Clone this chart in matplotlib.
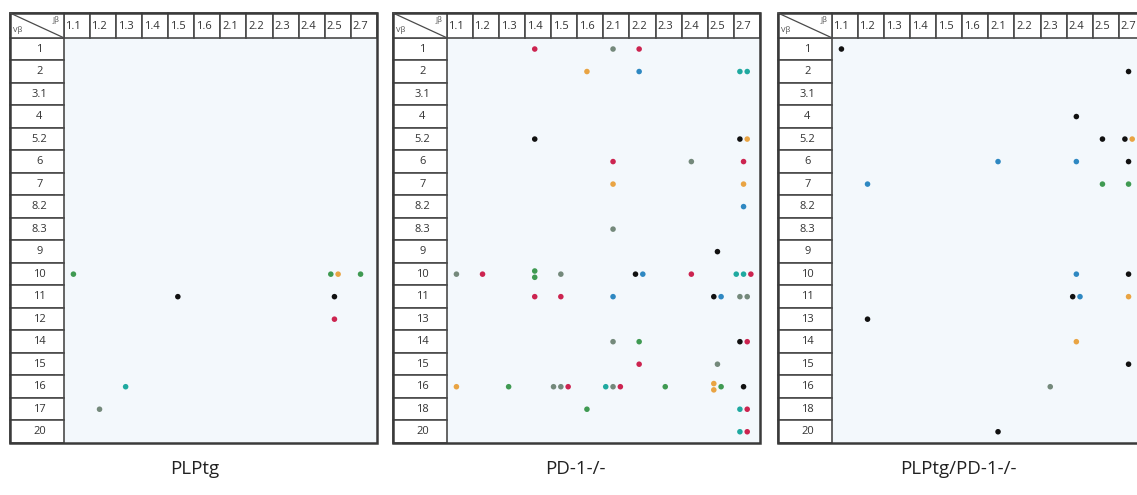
import matplotlib.pyplot as plt
from matplotlib.patches import Rectangle

plt.rcParams['font.family'] = ['Open Sans', 'DejaVu Sans']

# J beta segments (columns) and V beta segments (rows)
jb_cols = ['1.1', '1.2', '1.3', '1.4', '1.5', '1.6', '2.1', '2.2', '2.3', '2.4', '2.5', '2.7']
rows_plptg = ['1', '2', '3.1', '4', '5.2', '6', '7', '8.2', '8.3', '9', '10', '11', '12', '14', '15', '16', '17', '20']
rows_pd1 = ['1', '2', '3.1', '4', '5.2', '6', '7', '8.2', '8.3', '9', '10', '11', '13', '14', '15', '16', '18', '20']
rows_double = ['1', '2', '3.1', '4', '5.2', '6', '7', '8.2', '8.3', '9', '10', '11', '13', '14', '15', '16', '18', '20']

# clones found: (V beta, J beta, dots side by side; letters in one entry stack vertically)
dots_plptg = [
    ('10', '1.1', ['g']), ('10', '2.5', ['g', 'o']), ('10', '2.7', ['g']),
    ('11', '1.5', ['k']), ('11', '2.5', ['k']),
    ('12', '2.5', ['r']),
    ('16', '1.3', ['t']),
    ('17', '1.2', ['y']),
]
dots_pd1 = [
    ('1', '1.4', ['r']), ('1', '2.1', ['y']), ('1', '2.2', ['r']),
    ('2', '1.6', ['o']), ('2', '2.2', ['b']), ('2', '2.7', ['t', 't']),
    ('5.2', '1.4', ['k']), ('5.2', '2.7', ['k', 'o']),
    ('6', '2.1', ['r']), ('6', '2.4', ['y']), ('6', '2.7', ['r']),
    ('7', '2.1', ['o']), ('7', '2.7', ['o']),
    ('8.2', '2.7', ['b']),
    ('8.3', '2.1', ['y']),
    ('9', '2.5', ['k']),
    ('10', '1.1', ['y']), ('10', '1.2', ['r']), ('10', '1.4', ['gg']), ('10', '1.5', ['y']),
    ('10', '2.2', ['k', 'b']), ('10', '2.4', ['r']), ('10', '2.7', ['t', 't', 'r']),
    ('11', '1.4', ['r']), ('11', '1.5', ['r']), ('11', '2.1', ['b']), ('11', '2.5', ['k', 'b']),
    ('11', '2.7', ['y', 'y']),
    ('14', '2.1', ['y']), ('14', '2.2', ['g']), ('14', '2.7', ['k', 'r']),
    ('15', '2.2', ['r']), ('15', '2.5', ['y']),
    ('16', '1.1', ['o']), ('16', '1.3', ['g']), ('16', '1.5', ['y', 'y', 'r']),
    ('16', '2.1', ['t', 'y', 'r']), ('16', '2.3', ['g']), ('16', '2.5', ['oo', 'g']), ('16', '2.7', ['k']),
    ('18', '1.6', ['g']), ('18', '2.7', ['t', 'r']),
    ('20', '2.7', ['t', 'r']),
]
dots_double = [
    ('1', '1.1', ['k']),
    ('2', '2.7', ['k']),
    ('4', '2.4', ['k']),
    ('5.2', '2.5', ['k']), ('5.2', '2.7', ['k', 'o']),
    ('6', '2.1', ['b']), ('6', '2.4', ['b']), ('6', '2.7', ['k']),
    ('7', '1.2', ['b']), ('7', '2.5', ['g']), ('7', '2.7', ['g']),
    ('10', '2.4', ['b']), ('10', '2.7', ['k']),
    ('11', '2.4', ['k', 'b']), ('11', '2.7', ['o']),
    ('13', '1.2', ['k']),
    ('14', '2.4', ['o']),
    ('15', '2.7', ['k']),
    ('16', '2.3', ['y']),
    ('20', '2.1', ['k']),
]

colors = {'k': '#111111', 'r': '#cc2450', 'g': '#3f9a52', 'b': '#2e88c2',
          't': '#1fa9a0', 'o': '#e9a443', 'y': '#74897b'}

LW = 2.06   # label column width in column units
HH = 1.1    # header height in row units
line_c = '#4a4a4a'


def draw_panel(ax, rows, dots, title):
    n = len(rows)
    ax.set_xlim(-LW, len(jb_cols))
    ax.set_ylim(n, -HH)
    ax.axis('off')
    ax.add_patch(Rectangle((0, 0), len(jb_cols), n, facecolor='#f3f8fc', edgecolor='none'))
    # header cells
    for j, c in enumerate(jb_cols):
        ax.add_patch(Rectangle((j, -HH), 1, HH, facecolor='white', edgecolor=line_c, lw=1.2, clip_on=False))
        ax.text(j + 0.06, -HH / 2 + 0.05, c, ha='left', va='center', fontsize=8, color='#333333')
    # row label cells
    for i, r in enumerate(rows):
        ax.add_patch(Rectangle((-LW, i), LW, 1, facecolor='white', edgecolor=line_c, lw=1.2, clip_on=False))
        ax.text(-LW / 2 + 0.1, i + 0.5, r, ha='center', va='center', fontsize=8, color='#333333')
    # corner cell
    ax.add_patch(Rectangle((-LW, -HH), LW, HH, facecolor='white', edgecolor=line_c, lw=1.2, clip_on=False))
    ax.plot([-LW, 0], [-HH, 0], color=line_c, lw=0.9, clip_on=False)
    ax.text(-LW + 0.12, -0.35, 'Vβ', ha='left', va='center', fontsize=5.5, color='#444444')
    ax.text(-0.15, -0.8, 'Jβ', ha='right', va='center', fontsize=5.5, color='#444444')
    # outer border
    ax.add_patch(Rectangle((-LW, -HH), LW + len(jb_cols), n + HH, facecolor='none',
                           edgecolor='#3a3a3a', lw=1.8, clip_on=False))
    # clone dots
    for r, c, group in dots:
        yi = rows.index(r) + 0.5
        xc = jb_cols.index(c) + 0.5 - 0.13
        m = len(group)
        for k, stack in enumerate(group):
            x = xc + (k - (m - 1) / 2) * 0.28
            s = len(stack)
            for q, code in enumerate(stack):
                y = yi + (q - (s - 1) / 2) * 0.28
                ax.scatter(x, y, s=16, color=colors[code], edgecolors='none', zorder=3, clip_on=False)
    return ax


W, H = 1137, 495
fig = plt.figure(figsize=(W / 100, H / 100), dpi=100)
panels = [(10, rows_plptg, dots_plptg, 'PLPtg', 195),
          (393, rows_pd1, dots_pd1, 'PD-1-/-', 575),
          (778, rows_double, dots_double, 'PLPtg/PD-1-/-', 958)]
for left, rows, dots, title, tx in panels:
    ax = fig.add_axes([left / W, 52 / H, 367 / W, 430 / H])
    draw_panel(ax, rows, dots, title)
    fig.text(tx / W, 26 / H, title, ha='center', va='center', fontsize=13.5, color='#222222')

fig.savefig('out.png', dpi=100)
